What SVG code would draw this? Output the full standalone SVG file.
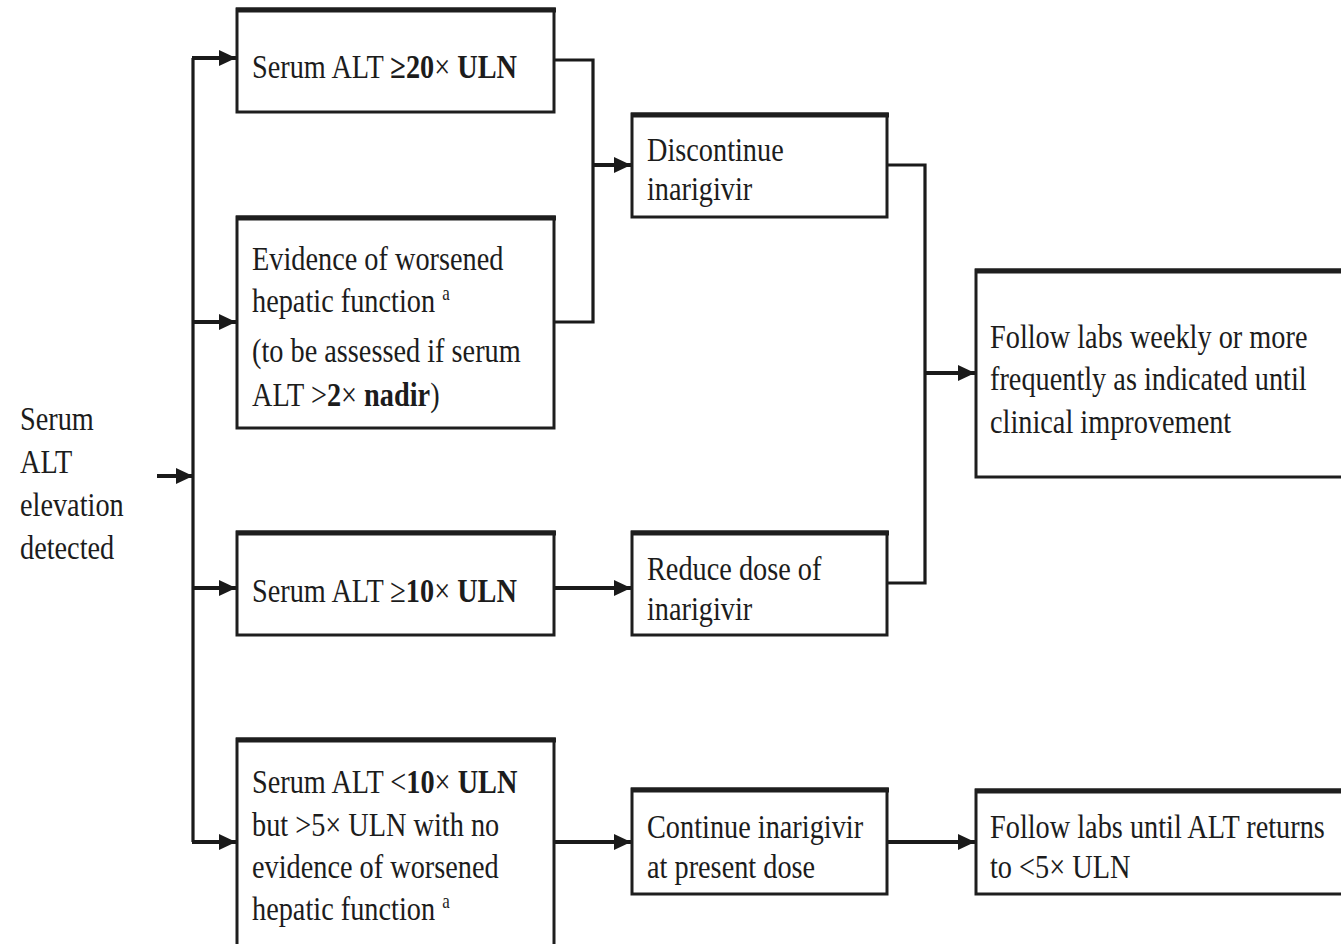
<svg xmlns="http://www.w3.org/2000/svg" width="1341" height="944" viewBox="0 0 1341 944">
<style>
.bg{fill:#ffffff}
.box{fill:#ffffff;stroke:#1e1e1e;stroke-width:3}
.top{stroke:#1e1e1e;stroke-width:5;fill:none}
.con{fill:none;stroke:#1a1a1a;stroke-width:3.2;stroke-linejoin:miter}
.arr{fill:none;stroke:#1a1a1a;stroke-width:4;marker-end:url(#ah)}
.t{font-family:"Liberation Serif","Times New Roman",serif;font-size:28.3px;fill:#1c1c1c}
.b{font-weight:bold}
.sup{font-size:17px}
</style>
<defs>
<marker id="ah" markerUnits="userSpaceOnUse" markerWidth="20" markerHeight="20" refX="17" refY="8" orient="auto">
<path d="M0,0 L17,8 L0,16 z" fill="#1a1a1a"/>
</marker>
</defs>
<rect class="bg" x="0" y="0" width="1341" height="944"/>

<g id="connectors">
<path class="arr" d="M157 476 H193"/>
<path class="con" d="M193 58 V842"/>
<path class="arr" d="M192 58 H236"/>
<path class="arr" d="M192 322 H236"/>
<path class="arr" d="M192 588 H236"/>
<path class="arr" d="M192 842 H236"/>
<path class="con" d="M555 60 H593 V322 H555"/>
<path class="arr" d="M592 165 H631"/>
<path class="con" d="M887 165 H925 V583 H887"/>
<path class="arr" d="M924 373 H975"/>
<path class="arr" d="M555 588 H631"/>
<path class="arr" d="M555 842 H631"/>
<path class="arr" d="M887 842 H975"/>
</g>

<g id="start">
<text class="t" transform="translate(20 430) scale(1 1.2)"><tspan x="0" y="0">Serum</tspan><tspan x="0" y="35.8">ALT</tspan><tspan x="0" y="71.7">elevation</tspan><tspan x="0" y="107.5">detected</tspan></text>
</g>

<g id="n_alt20">
<rect class="box" x="237" y="9" width="317" height="103"/>
<path class="top" d="M236 10 H556"/>
<text class="t" transform="translate(252 78) scale(1 1.2)">Serum ALT <tspan class="b">≥20</tspan>× <tspan class="b">ULN</tspan></text>
</g>

<g id="n_worsened">
<rect class="box" x="237" y="217" width="317" height="211"/>
<path class="top" d="M236 218 H556"/>
<text class="t" transform="translate(252 270) scale(1 1.2)"><tspan x="0" y="0">Evidence of worsened</tspan><tspan x="0" y="35">hepatic function </tspan><tspan class="sup" dy="-10">a</tspan><tspan x="0" y="76.7">(to be assessed if serum</tspan><tspan x="0" y="113.3">ALT &gt;<tspan class="b">2</tspan>× <tspan class="b">nadir</tspan>)</tspan></text>
</g>

<g id="n_alt10">
<rect class="box" x="237" y="532" width="317" height="103"/>
<path class="top" d="M236 533 H556"/>
<text class="t" transform="translate(252 602) scale(1 1.2)">Serum ALT ≥<tspan class="b">10</tspan>× <tspan class="b">ULN</tspan></text>
</g>

<g id="n_alt5">
<rect class="box" x="237" y="739" width="317" height="230"/>
<path class="top" d="M236 740 H556"/>
<text class="t" transform="translate(252 793) scale(1 1.2)"><tspan x="0" y="0">Serum ALT &lt;<tspan class="b">10</tspan>× <tspan class="b">ULN</tspan></tspan><tspan x="0" y="35.8">but &gt;5× ULN with no</tspan><tspan x="0" y="70.8">evidence of worsened</tspan><tspan x="0" y="105.8">hepatic function </tspan><tspan class="sup" dy="-10">a</tspan></text>
</g>

<g id="n_discontinue">
<rect class="box" x="632" y="114" width="255" height="103"/>
<path class="top" d="M631 115 H889"/>
<text class="t" transform="translate(647 161) scale(1 1.2)"><tspan x="0" y="0">Discontinue</tspan><tspan x="0" y="32.5">inarigivir</tspan></text>
</g>

<g id="n_reduce">
<rect class="box" x="632" y="532" width="255" height="103"/>
<path class="top" d="M631 533 H889"/>
<text class="t" transform="translate(647 580) scale(1 1.2)"><tspan x="0" y="0">Reduce dose of</tspan><tspan x="0" y="33.3">inarigivir</tspan></text>
</g>

<g id="n_continue">
<rect class="box" x="632" y="789" width="255" height="105"/>
<path class="top" d="M631 790 H889"/>
<text class="t" transform="translate(647 838) scale(1 1.2)"><tspan x="0" y="0">Continue inarigivir</tspan><tspan x="0" y="33.3">at present dose</tspan></text>
</g>

<g id="n_follow_weekly">
<rect class="box" x="976" y="270" width="380" height="207"/>
<path class="top" d="M975 271 H1341"/>
<text class="t" transform="translate(990 348) scale(1 1.2)"><tspan x="0" y="0">Follow labs weekly or more</tspan><tspan x="0" y="35">frequently as indicated until</tspan><tspan x="0" y="70.8">clinical improvement</tspan></text>
</g>

<g id="n_follow_until">
<rect class="box" x="976" y="790" width="380" height="104"/>
<path class="top" d="M975 791 H1341"/>
<text class="t" transform="translate(990 838) scale(1 1.2)"><tspan x="0" y="0">Follow labs until ALT returns</tspan><tspan x="0" y="33.3">to &lt;5× ULN</tspan></text>
</g>
</svg>
